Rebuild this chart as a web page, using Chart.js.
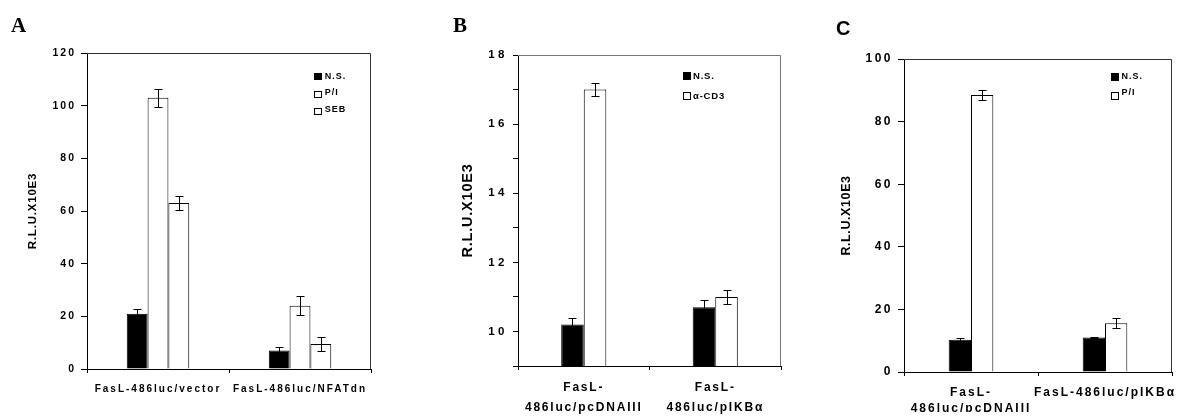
<!DOCTYPE html>
<html><head><meta charset="utf-8">
<script src="https://cdn.jsdelivr.net/npm/chart.js@4.4.0/dist/chart.umd.min.js"></script>
<style>
html,body{margin:0;padding:0;background:#fff;}
body{width:1178px;height:418px;position:relative;overflow:hidden;}
canvas{position:absolute;top:0;}
.lbl{position:absolute;font-weight:bold;line-height:1;color:#000;}
</style></head><body>
<canvas id="cA" width="395" height="418" style="left:0px"></canvas>
<canvas id="cB" width="390" height="418" style="left:400px"></canvas>
<canvas id="cC" width="388" height="418" style="left:790px"></canvas>
<div class="lbl" style="left:11px;top:15px;font-family:'Liberation Serif';font-size:21px;">A</div>
<div class="lbl" style="left:453px;top:15px;font-family:'Liberation Serif';font-size:21px;">B</div>
<div class="lbl" style="left:836px;top:18px;font-family:'Liberation Sans';font-size:20px;">C</div>
<script>
// ---------- DATA ----------
const yTitle = 'R.L.U.X10E3';

// Panel A
const categoriesA = ['FasL-486luc/vector', 'FasL-486luc/NFATdn'];
const seriesNamesA = ['N.S.', 'P/I', 'SEB'];
const nsA = [21, 7];
const piA = [103, 24];
const sebA = [63, 9.5];
const nsErrA = [1.6, 1.5];
const piErrA = [3.4, 3.6];
const sebErrA = [2.6, 2.6];
const yMinA = 0, yMaxA = 120, yStepA = 20;

// Panel B
const categoriesB = [['FasL-', '486luc/pcDNAIII'], ['FasL-', '486luc/pIKBα']];
const seriesNamesB = ['N.S.', 'α-CD3'];
const nsB = [10.2, 10.7];
const cd3B = [17.0, 11.0];
const nsErrB = [0.2, 0.2];
const cd3ErrB = [0.2, 0.2];
const yMinB = 9, yMaxB = 18, yStepB = 1;
const yTickLabelsB = [10, 12, 14, 16, 18];

// Panel C
const categoriesC = [['FasL-', '486luc/pcDNAIII'], 'FasL-486luc/pIKBα'];
const seriesNamesC = ['N.S.', 'P/I'];
const nsC = [10.3, 11.0];
const piC = [88.5, 15.6];
const nsErrC = [0.5, 0.2];
const piErrC = [1.5, 1.6];
const yMinC = 0, yMaxC = 100, yStepC = 20;

// ---------- PLUGINS ----------
const FONT = '"Liberation Sans", Arial, sans-serif';

const errPlugin = {
  id: 'errBars',
  afterDatasetsDraw(chart, args, opts) {
    const ctx = chart.ctx, y = chart.scales.y;
    ctx.save();
    ctx.strokeStyle = '#000'; ctx.lineWidth = 1;
    chart.data.datasets.forEach((ds, di) => {
      const meta = chart.getDatasetMeta(di);
      meta.data.forEach((bar, i) => {
        const v = ds.data[i], e = ds.errors[i];
        const x = Math.round(bar.x) + 0.5;
        const t = Math.round(y.getPixelForValue(v + e)) + 0.5;
        const b = Math.round(y.getPixelForValue(v - e)) + 0.5;
        const w = opts.cap / 2;
        ctx.beginPath();
        ctx.moveTo(x, t); ctx.lineTo(x, b);
        ctx.moveTo(x - w, t); ctx.lineTo(x + w, t);
        ctx.moveTo(x - w, b); ctx.lineTo(x + w, b);
        ctx.stroke();
      });
    });
    ctx.restore();
  }
};

const legendPlugin = {
  id: 'boxLegend',
  afterDraw(chart, args, o) {
    const ctx = chart.ctx, a = chart.chartArea;
    ctx.save();
    ctx.font = 'bold ' + o.size + 'px ' + FONT;
    try { ctx.letterSpacing = o.spacing + 'px'; } catch (e) {}
    ctx.textBaseline = 'alphabetic';
    ctx.textAlign = 'left';
    chart.data.datasets.forEach((ds, i) => {
      const bx = Math.round(a.right + o.dx), by = Math.round(a.top + o.rows[i]);
      ctx.fillStyle = ds.backgroundColor;
      ctx.fillRect(bx, by, o.bw, o.bh);
      ctx.strokeStyle = '#000'; ctx.lineWidth = 1;
      ctx.strokeRect(bx + 0.5, by + 0.5, o.bw - 1, o.bh - 1);
      ctx.fillStyle = '#000';
      ctx.fillText(ds.label, bx + o.bw + o.gap, by + o.size * 0.72 + o.textDy[i]);
    });
    ctx.restore();
  }
};

const framePlugin = {
  id: 'frame',
  afterDraw(chart, args, o) {
    const ctx = chart.ctx, a = chart.chartArea;
    ctx.save();
    ctx.strokeStyle = o.color; ctx.lineWidth = 1;
    const t = Math.round(a.top) + 0.5, r = Math.round(a.right) - 0.5;
    ctx.beginPath();
    ctx.moveTo(Math.round(a.left), t); ctx.lineTo(r, t); ctx.lineTo(r, Math.round(a.bottom));
    ctx.stroke();
    ctx.restore();
  }
};

const spacingPlugin = {
  id: 'spacing',
  beforeDraw(chart, args, o) {
    Object.keys(o).forEach(id => {
      if (id.startsWith('_')) return;
      const s = chart.scales[id];
      if (!s || s._spWrapped) return;
      const cfg = o[id];
      const wrap = (name, sp) => {
        const orig = s[name].bind(s);
        s[name] = function (...args) {
          const ctx = this.ctx;
          const prev = ctx.letterSpacing;
          try { ctx.letterSpacing = sp + 'px'; } catch (e) {}
          orig(...args);
          try { ctx.letterSpacing = prev; } catch (e) {}
        };
      };
      if (cfg.labels != null) wrap('drawLabels', cfg.labels);
      if (cfg.title != null) wrap('drawTitle', cfg.title);
      s._spWrapped = true;
    });
  }
};

function bold(size, lh) {
  const f = { family: FONT, size: size, weight: 'bold' };
  if (lh) f.lineHeight = lh;
  return f;
}

function makeDatasets(names, values, errors) {
  return names.map((n, i) => ({
    label: n,
    data: values[i],
    errors: errors[i],
    backgroundColor: i === 0 ? '#000' : '#fff',
    borderColor: '#000',
    borderWidth: 1
  }));
}

function makeChart(id, c) {
  return new Chart(document.getElementById(id), {
    type: 'bar',
    data: { labels: c.labels, datasets: c.datasets },
    options: {
      responsive: false,
      animation: false,
      devicePixelRatio: 1,
      events: [],
      layout: { padding: c.padding },
      datasets: { bar: { categoryPercentage: c.catPct, barPercentage: 1 } },
      plugins: {
        legend: { display: false },
        tooltip: { enabled: false },
        errBars: { cap: 8 },
        boxLegend: c.legend,
        frame: { color: c.frameColor },
        spacing: c.spacing
      },
      scales: {
        x: {
          offset: true,
          grid: { display: true, offset: true, drawOnChartArea: false, drawTicks: true, tickLength: 4, color: '#000' },
          border: { display: true, color: '#000', width: 1 },
          ticks: { color: '#000', font: c.xFont, padding: c.xPad, maxRotation: 0, minRotation: 0, autoSkip: false },
          afterFit: s => { s.height = c.xHeight; }
        },
        y: {
          min: c.yMin, max: c.yMax,
          grid: { display: true, drawOnChartArea: false, drawTicks: true, tickLength: c.yTick, color: '#000' },
          border: { display: true, color: '#000', width: 1 },
          ticks: { stepSize: c.yStep, color: '#000', font: c.yFont, padding: c.yPad, callback: c.yCb },
          title: { display: true, text: yTitle, color: '#000', font: c.titleFont, padding: { top: c.titlePad, bottom: 0 } },
          afterFit: s => { s.width = c.yWidth; }
        }
      }
    },
    plugins: [spacingPlugin, errPlugin, legendPlugin, framePlugin]
  });
}

// ---------- CHARTS ----------
makeChart('cA', {
  labels: categoriesA,
  datasets: makeDatasets(seriesNamesA, [nsA, piA, sebA], [nsErrA, piErrA, sebErrA]),
  padding: { left: 0, top: 53, right: 24, bottom: 9 },
  catPct: 0.44,
  xHeight: 40, xFont: bold(10), xPad: 10,
  yWidth: 87, yMin: yMinA, yMax: yMaxA, yStep: yStepA, yTick: 6, yFont: bold(10.5), yPad: 5,
  yCb: v => String(v),
  titleFont: bold(11.5), titlePad: 26,
  frameColor: '#333',
  spacing: { x: { labels: 2 }, y: { labels: 2, title: 0.8 } },
  legend: { size: 9, spacing: 1, dx: -56.7, rows: [19.7, 37.7, 55], bw: 8, bh: 7, gap: 2.7, textDy: [0, -2.7, -2] }
});

makeChart('cB', {
  labels: categoriesB,
  datasets: makeDatasets(seriesNamesB, [nsB, cd3B], [nsErrB, cd3ErrB]),
  padding: { left: 0, top: 55, right: 9, bottom: 4 },
  catPct: 0.343,
  xHeight: 48, xFont: bold(12, '20.5px'), xPad: 7,
  yWidth: 118, yMin: yMinB, yMax: yMaxB, yStep: yStepB, yTick: 5, yFont: bold(11.5), yPad: 5,
  yCb: v => (yTickLabelsB.includes(v) ? String(v) : ''),
  titleFont: bold(14.5), titlePad: 59,
  frameColor: '#777',
  spacing: { x: { labels: 1.8 }, y: { labels: 3.5, title: 0.8 } },
  legend: { size: 9.5, spacing: 0.8, dx: -98.3, rows: [16.7, 36.7], bw: 8, bh: 8, gap: 2, textDy: [0, 0] }
});

makeChart('cC', {
  labels: categoriesC,
  datasets: makeDatasets(seriesNamesC, [nsC, piC], [nsErrC, piErrC]),
  padding: { left: 0, top: 59, right: 6, bottom: 6 },
  catPct: 0.333,
  xHeight: 40, xFont: bold(12, '16.5px'), xPad: 8,
  yWidth: 114, yMin: yMinC, yMax: yMaxC, yStep: yStepC, yTick: 6, yFont: bold(12), yPad: 5,
  yCb: v => String(v),
  titleFont: bold(12.5), titlePad: 49,
  frameColor: '#333',
  spacing: { x: { labels: 2 }, y: { labels: 2.5, title: 0.6 } },
  legend: { size: 9, spacing: 1, dx: -61.3, rows: [13.7, 32.7], bw: 8, bh: 8, gap: 2.4, textDy: [0, -3] }
});
</script>
</body></html>
